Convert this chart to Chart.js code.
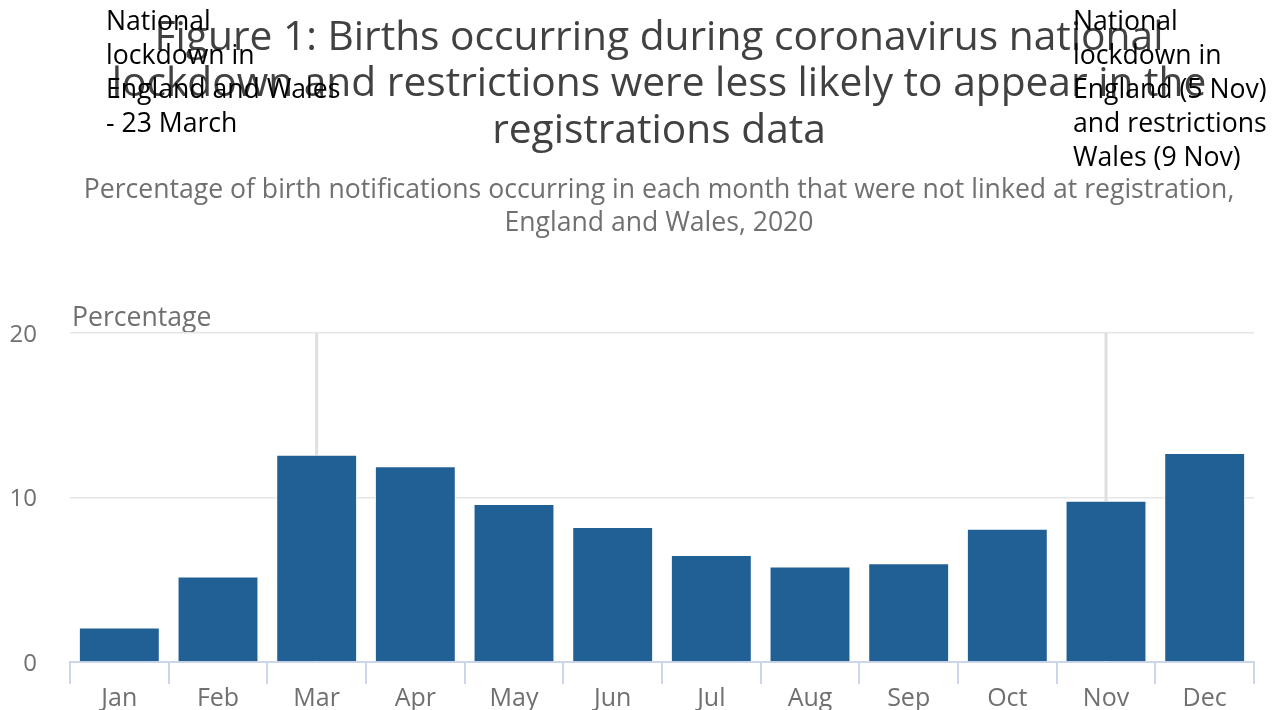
<!DOCTYPE html>
<html>
<head>
<meta charset="utf-8">
<script src="https://cdn.jsdelivr.net/npm/chart.js@4/dist/chart.umd.min.js"></script>
<style>
html,body{margin:0;padding:0;background:#fff;}
#wrap{width:1277px;height:710px;position:relative;}
</style>
</head>
<body>
<div id="wrap"><canvas id="c" width="1277" height="710"></canvas></div>
<script>
const months = ["Jan","Feb","Mar","Apr","May","Jun","Jul","Aug","Sep","Oct","Nov","Dec"];
const notLinkedPct = [2.1, 5.2, 12.6, 11.9, 9.6, 8.2, 6.5, 5.8, 6.0, 8.1, 9.8, 12.7];
const yTicks = [0, 10, 20];
const titleLines = ["Figure 1: Births occurring during coronavirus national","lockdown and restrictions were less likely to appear in the","registrations data"];
const subtitleLines = ["Percentage of birth notifications occurring in each month that were not linked at registration,","England and Wales, 2020"];
const yAxisTitle = "Percentage";
const annotationMonths = ["Mar","Nov"];
const annotationTexts = [
  ["National","lockdown in","England and Wales","- 23 March"],
  ["National","lockdown in","England (5 Nov)","and restrictions","Wales (9 Nov)"]
];

const FONT = '"Open Sans", sans-serif';

const textPlugin = {
  id: 'texts',
  beforeDraw(chart) {
    const ctx = chart.ctx;
    ctx.save();
    ctx.fillStyle = '#414042';
    ctx.font = '40.7px ' + FONT;
    ctx.textAlign = 'center';
    ctx.textBaseline = 'middle';
    titleLines.forEach((l, i) => ctx.fillText(l, 659, 38 + i * 46.5));
    ctx.fillStyle = '#707070';
    ctx.font = '26.6px ' + FONT;
    subtitleLines.forEach((l, i) => ctx.fillText(l, 659, 190 + i * 33));
    ctx.textAlign = 'left';
    ctx.fillText(yAxisTitle, chart.chartArea.left + 2, 318);
    ctx.restore();
  },
  beforeDatasetsDraw(chart) {
    const ctx = chart.ctx;
    const x = chart.scales.x;
    const area = chart.chartArea;
    ctx.save();
    ctx.strokeStyle = '#e0e0e0';
    ctx.lineWidth = 3;
    annotationMonths.forEach(m => {
      const px = x.getPixelForValue(months.indexOf(m));
      ctx.beginPath();
      ctx.moveTo(px, area.top);
      ctx.lineTo(px, area.bottom);
      ctx.stroke();
    });
    ctx.restore();
  },
  afterDraw(chart) {
    const ctx = chart.ctx;
    ctx.save();
    ctx.fillStyle = '#000';
    ctx.font = '26.6px ' + FONT;
    ctx.textAlign = 'left';
    ctx.textBaseline = 'middle';
    const xs = [106, 1073];
    annotationTexts.forEach((lines, k) => {
      lines.forEach((l, i) => ctx.fillText(l, xs[k], 22 + i * 34));
    });
    ctx.restore();
  }
};

new Chart(document.getElementById('c'), {
  type: 'bar',
  data: {
    labels: months,
    datasets: [{
      data: notLinkedPct,
      backgroundColor: '#206095',
      borderColor: '#ffffff',
      borderWidth: 1,
      barPercentage: 0.82,
      categoryPercentage: 1.0
    }]
  },
  options: {
    responsive: false,
    animation: false,
    layout: { padding: { top: 333, right: 23, left: 0, bottom: 0 } },
    plugins: { legend: { display: false }, tooltip: { enabled: false }, title: { display: false } },
    scales: {
      x: {
        afterFit(s) { s.height = 48; },
        grid: { display: true, drawOnChartArea: false, drawTicks: true, tickLength: 22, color: '#ccd6eb', lineWidth: 2, offset: true },
        border: { display: true, color: '#ccd6eb', width: 2 },
        ticks: { color: '#707070', font: { family: FONT, size: 25 }, padding: 0, maxRotation: 0 }
      },
      y: {
        min: 0, max: 20,
        afterFit(s) { s.width = 70; },
        afterBuildTicks(s) { s.ticks = yTicks.map(v => ({ value: v })); },
        grid: { color: '#e6e6e6', lineWidth: 1.5, drawTicks: false },
        border: { display: false },
        ticks: { color: '#707070', font: { family: FONT, size: 24 }, padding: 33, labelOffset: 2 }
      }
    }
  },
  plugins: [textPlugin]
});
</script>
</body>
</html>
